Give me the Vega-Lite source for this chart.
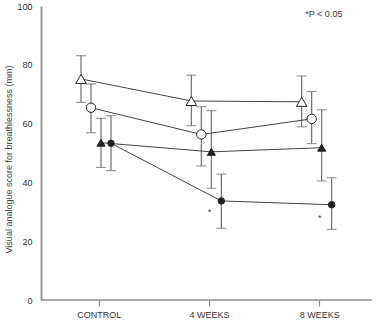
{
  "$schema": "https://vega.github.io/schema/vega-lite/v6.json",
  "width": 331,
  "height": 294,
  "autosize": {"type": "none"},
  "padding": {"left": 41, "top": 6, "right": 6, "bottom": 23},
  "background": "white",
  "config": {
    "view": {"stroke": null},
    "font": "Liberation Sans"
  },
  "datasets": {
    "scores": [
      {"group": "A", "time": "CONTROL", "mean": 75.2, "lo": 67.2, "hi": 83.1},
      {"group": "A", "time": "4 WEEKS", "mean": 67.7, "lo": 59.3, "hi": 76.5},
      {"group": "A", "time": "8 WEEKS", "mean": 67.4, "lo": 58.9, "hi": 76.2},
      {"group": "B", "time": "CONTROL", "mean": 65.4, "lo": 56.9, "hi": 73.5},
      {"group": "B", "time": "4 WEEKS", "mean": 56.3, "lo": 45.6, "hi": 65.8},
      {"group": "B", "time": "8 WEEKS", "mean": 61.6, "lo": 53.2, "hi": 70.9},
      {"group": "C", "time": "CONTROL", "mean": 53.5, "lo": 45.1, "hi": 61.8},
      {"group": "C", "time": "4 WEEKS", "mean": 50.4, "lo": 38.0, "hi": 64.4},
      {"group": "C", "time": "8 WEEKS", "mean": 51.8, "lo": 40.5, "hi": 64.7},
      {"group": "D", "time": "CONTROL", "mean": 53.3, "lo": 44.0, "hi": 62.7},
      {"group": "D", "time": "4 WEEKS", "mean": 33.7, "lo": 24.4, "hi": 42.8},
      {"group": "D", "time": "8 WEEKS", "mean": 32.4, "lo": 24.0, "hi": 41.6}
    ],
    "notes": [
      {"time": "4 WEEKS", "value": 29.8, "label": "*"},
      {"time": "8 WEEKS", "value": 27.8, "label": "*"}
    ],
    "legendnote": [
      {"time": "8 WEEKS", "value": 97.3, "label": "*P < 0.05"}
    ],
    "baseline": [
      {"value": 0}
    ]
  },
  "layer": [
    {
      "data": {"name": "scores"},
      "mark": {"type": "rule", "color": "#6e6e6e", "strokeWidth": 1.2},
      "encoding": {
        "x": {
          "field": "time", "type": "nominal", "sort": ["CONTROL", "4 WEEKS", "8 WEEKS"],
          "scale": {"type": "band", "domain": ["CONTROL", "4 WEEKS", "8 WEEKS"], "paddingInner": 0, "paddingOuter": 0, "range": [3, 334]},
          "axis": {
            "title": null,
            "grid": false,
            "domain": false,
            "labelAngle": 0,
            "tickColor": "#8c8c8c",
            "tickWidth": 1.2,
            "tickSize": 6,
            "labelFontSize": 9,
            "labelColor": "#333333",
            "labelPadding": 4
          }
        },
        "xOffset": {
          "field": "group", "type": "nominal",
          "scale": {"type": "point", "domain": ["A", "B", "C", "D"], "range": [37, 67], "padding": 0}
        },
        "y": {
          "field": "lo", "type": "quantitative",
          "scale": {"domain": [0, 100], "nice": false},
          "axis": {
            "values": [0, 20, 40, 60, 80, 100],
            "grid": false,
            "ticks": false,
            "domainColor": "#999999",
            "domainWidth": 2,
            "labelFontSize": 9,
            "labelColor": "#333333",
            "labelPadding": 9,
            "title": "Visual analogue score for breathlessness  (mm)",
            "titleFontSize": 9,
            "titleFontWeight": "normal",
            "titleColor": "#444444",
            "titleX": -33,
            "titleY": 153,
            "titleAngle": -90,
            "titleAlign": "center",
            "titleBaseline": "middle"
          }
        },
        "y2": {"field": "hi"}
      }
    },
    {
      "data": {"name": "baseline"},
      "mark": {"type": "rule", "color": "#8c8c8c", "strokeWidth": 1.5},
      "encoding": {
        "y": {"field": "value", "type": "quantitative"}
      }
    },
    {
      "data": {"name": "scores"},
      "mark": {"type": "tick", "orient": "horizontal", "color": "#6e6e6e", "size": 10, "thickness": 1.2},
      "encoding": {
        "x": {"field": "time", "type": "nominal"},
        "xOffset": {"field": "group", "type": "nominal"},
        "y": {"field": "lo", "type": "quantitative"}
      }
    },
    {
      "data": {"name": "scores"},
      "mark": {"type": "tick", "orient": "horizontal", "color": "#6e6e6e", "size": 10, "thickness": 1.2},
      "encoding": {
        "x": {"field": "time", "type": "nominal"},
        "xOffset": {"field": "group", "type": "nominal"},
        "y": {"field": "hi", "type": "quantitative"}
      }
    },
    {
      "data": {"name": "scores"},
      "mark": {"type": "line", "color": "#444444", "strokeWidth": 1},
      "encoding": {
        "x": {"field": "time", "type": "nominal"},
        "xOffset": {"field": "group", "type": "nominal"},
        "y": {"field": "mean", "type": "quantitative"},
        "detail": {"field": "group", "type": "nominal"}
      }
    },
    {
      "data": {"name": "scores"},
      "mark": {"type": "point", "filled": true, "stroke": "#222222", "strokeWidth": 1, "opacity": 1},
      "encoding": {
        "x": {"field": "time", "type": "nominal"},
        "xOffset": {"field": "group", "type": "nominal"},
        "y": {"field": "mean", "type": "quantitative"},
        "shape": {
          "field": "group", "type": "nominal", "legend": null,
          "scale": {"domain": ["A", "B", "C", "D"], "range": ["triangle-up", "circle", "triangle-up", "circle"]}
        },
        "fill": {
          "field": "group", "type": "nominal", "legend": null,
          "scale": {"domain": ["A", "B", "C", "D"], "range": ["#ffffff", "#ffffff", "#222222", "#222222"]}
        },
        "size": {
          "field": "group", "type": "nominal", "legend": null,
          "scale": {"domain": ["A", "B", "C", "D"], "range": [110, 42, 70, 42]}
        }
      }
    },
    {
      "data": {"name": "notes"},
      "mark": {"type": "text", "fontSize": 9, "color": "#444444", "baseline": "middle", "align": "center"},
      "encoding": {
        "x": {"field": "time", "type": "nominal"},
        "y": {"field": "value", "type": "quantitative"},
        "text": {"field": "label"}
      }
    },
    {
      "data": {"name": "legendnote"},
      "mark": {"type": "text", "fontSize": 9, "color": "#333333", "baseline": "middle", "align": "center", "dx": 4},
      "encoding": {
        "x": {"field": "time", "type": "nominal"},
        "y": {"field": "value", "type": "quantitative"},
        "text": {"field": "label"}
      }
    }
  ]
}
